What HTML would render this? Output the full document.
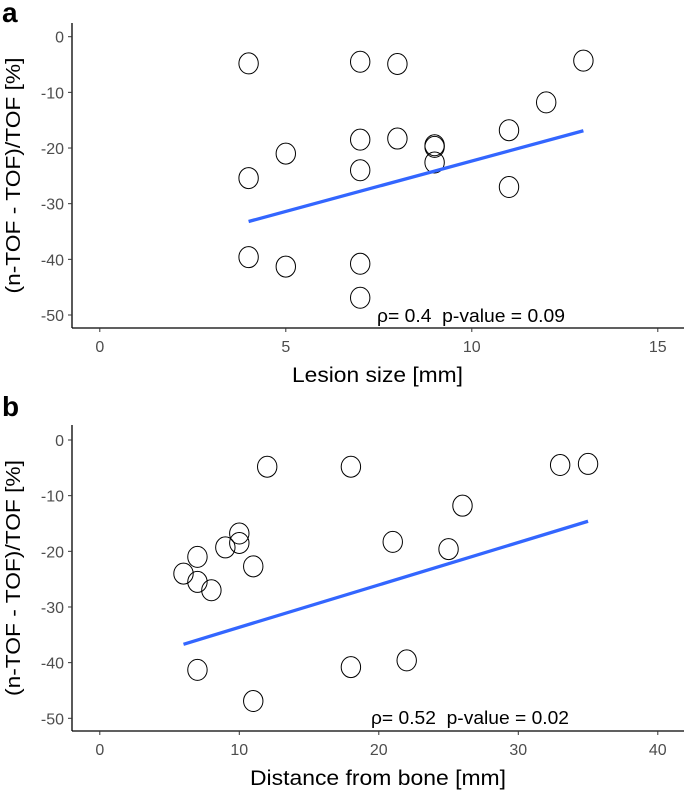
<!DOCTYPE html>
<html><head><meta charset="utf-8"><style>
html,body{margin:0;padding:0;background:#fff}
svg{display:block;font-family:"Liberation Sans",sans-serif}
text{white-space:pre}
</style></head><body>
<svg id="chart" width="685" height="792" viewBox="0 0 685 792" xmlns="http://www.w3.org/2000/svg"></svg>
<script>
// Panel a data
const aX = [4,7,8,13,12,11,7,8,9,9,9,5,4,7,11,4,5,7,7];
const aY = [-4.8,-4.5,-4.9,-4.3,-11.8,-16.8,-18.5,-18.3,-19.5,-19.8,-22.6,-21,-25.4,-24,-27,-39.6,-41.3,-40.8,-46.9];
const aFitX = [4,13];
const aFitY = [-33.2,-16.9];
const aXTicks = [0,5,10,15];
// Panel b data
const bX = [12,18,33,35,26,10,10,9,21,25,7,11,6,7,8,7,18,22,11];
const bY = [-4.8,-4.8,-4.5,-4.3,-11.8,-16.8,-18.5,-19.3,-18.3,-19.6,-21,-22.7,-24,-25.5,-27,-41.3,-40.8,-39.6,-46.9];
const bFitX = [6,35];
const bFitY = [-36.7,-14.6];
const bXTicks = [0,10,20,30,40];
const yTicks = [0,-10,-20,-30,-40,-50];

const svg = document.getElementById('chart');
const NS = 'http://www.w3.org/2000/svg';
function mk(tag, attrs, parent){
  const e = document.createElementNS(NS, tag);
  for (const k in attrs) e.setAttribute(k, attrs[k]);
  (parent||svg).appendChild(e);
  return e;
}

function panel(p){
  const g = mk('g', {});
  
  
  const sx = v => p.x0 + v * (p.x1 - p.x0) / p.xmax;
  const sy = v => p.y0 + v * (p.y1 - p.y0) / (-50);
  const L = mk('text', {x:2, y:p.letterY, 'font-size':28, 'font-weight':'bold', fill:'#000'}, g);
  L.textContent = p.letter;
  
  
  const ya = mk('line', {x1:72, x2:72, y1:p.axTop, y2:p.axBot, stroke:'#000', 'stroke-width':1.3}, g);
  
  
  const xa = mk('line', {x1:72, x2:684, y1:p.axBot, y2:p.axBot, stroke:'#000', 'stroke-width':1.3}, g);
  
  
  yTicks.forEach(t => {
    const y = sy(t);
    mk('line', {x1:68, x2:72, y1:y, y2:y, stroke:'#333', 'stroke-width':1}, g);
    const tx = mk('text', {x:64, y:y+6, 'font-size':16, fill:'#4d4d4d', 'text-anchor':'end'}, g);
    tx.textContent = t;
    
    
  });
  p.xticks.forEach(t => {
    const x = sx(t);
    mk('line', {x1:x, x2:x, y1:p.axBot, y2:p.axBot+4, stroke:'#333', 'stroke-width':1}, g);
    const tx = mk('text', {x:x, y:p.axBot+24, 'font-size':16, fill:'#4d4d4d', 'text-anchor':'middle'}, g);
    tx.textContent = t;
    
    
  });
  p.xs.forEach((v,i) => {
    const c = mk('ellipse', {cx:sx(v), cy:sy(p.ys[i]), rx:9.7, ry:10.5, fill:'none', stroke:'#000', 'stroke-width':1}, g);
    
    
  });
  const fl = mk('line', {x1:sx(p.fx[0]), y1:sy(p.fy[0]), x2:sx(p.fx[1]), y2:sy(p.fy[1]), stroke:'#3366ff', 'stroke-width':3.3}, g);
  
  
  const an = mk('text', {x:p.annX, y:p.annY, 'font-size':18, fill:'#000', textLength:p.annW, lengthAdjust:'spacingAndGlyphs'}, g);
  an.textContent = p.ann;
  
  
  const xl = mk('text', {x:p.xlabX, y:p.xlabY, 'font-size':21, fill:'#000', textLength:p.xlabW, lengthAdjust:'spacingAndGlyphs'}, g);
  xl.textContent = p.xlab;
  
  
  const yc = (p.axTop + p.axBot)/2;
  const yl = mk('text', {x:-118, y:0, 'font-size':20, fill:'#000', textLength:236, lengthAdjust:'spacingAndGlyphs', transform:`translate(20,${yc}) rotate(-90)`}, g);
  yl.textContent = '(n-TOF - TOF)/TOF [%]';
  
  
}

panel({name:'panel-a', letter:'a', letterY:22, x0:99.8, x1:657.8, xmax:15, y0:36.7, y1:315,
  axTop:23, axBot:328, xticks:aXTicks, xs:aX, ys:aY, fx:aFitX, fy:aFitY,
  ann:'ρ= 0.4  p-value = 0.09', annX:377, annW:188, annY:322, xlab:'Lesion size [mm]', xlabX:292, xlabW:171, xlabY:382});
panel({name:'panel-b', letter:'b', letterY:416, x0:99.8, x1:657.8, xmax:40, y0:440, y1:718.3,
  axTop:425, axBot:731, xticks:bXTicks, xs:bX, ys:bY, fx:bFitX, fy:bFitY,
  ann:'ρ= 0.52  p-value = 0.02', annX:371, annW:198, annY:724, xlab:'Distance from bone [mm]', xlabX:250, xlabW:256, xlabY:785});
</script>
</body></html>
